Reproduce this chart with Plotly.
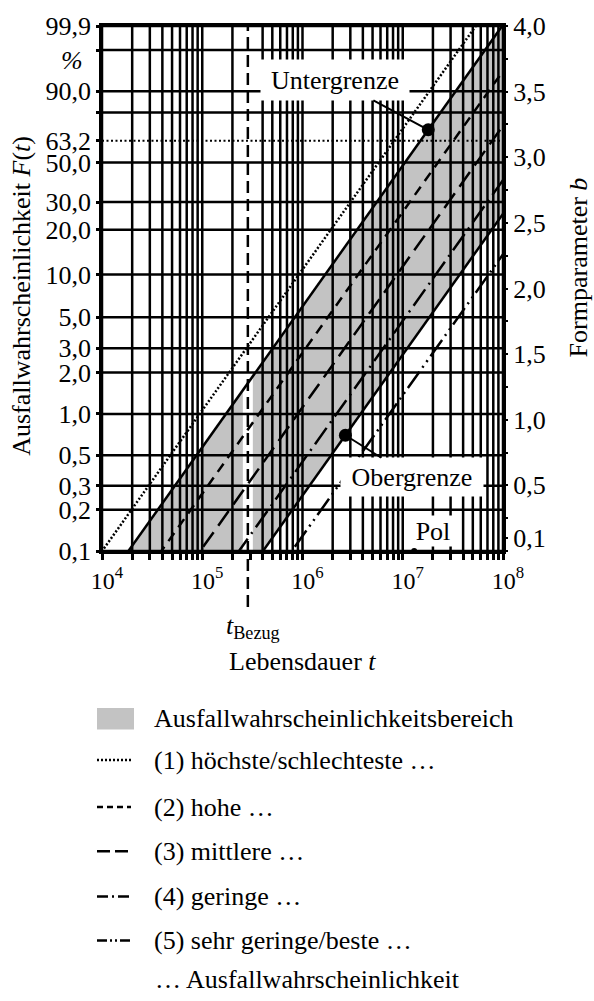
import numpy as np
import plotly.graph_objects as go

# ---------------------------------------------------------------------------
# Weibull probability paper: failure probability F(t) in percent
# ---------------------------------------------------------------------------
F_GRID = [0.1, 0.2, 0.3, 0.5, 1.0, 2.0, 3.0, 5.0, 10.0, 20.0, 30.0, 50.0,
          80.0, 90.0, 99.0, 99.9]
F_TICKS = [0.1, 0.2, 0.3, 0.5, 1.0, 2.0, 3.0, 5.0, 10.0, 20.0, 30.0, 50.0,
           63.2, 90.0, 99.9]
F_TICKTEXT = ["0,1", "0,2", "0,3", "0,5", "1,0", "2,0", "3,0", "5,0", "10,0",
              "20,0", "30,0", "50,0", "63,2", "90,0", "99,9"]
F_MINOR = [80.0, 99.0]
F_CHAR = 63.2  # characteristic life level

# Lifetime axis (log)
T_DECADES = [1e4, 1e5, 1e6, 1e7, 1e8]
T_DECADE_TEXT = ["10<sup>4</sup>", "10<sup>5</sup>", "10<sup>6</sup>",
                 "10<sup>7</sup>", "10<sup>8</sup>"]

# Shape parameter scale on the right
B_QUARTERS = [0.0, 0.25, 0.5, 0.75, 1.0, 1.25, 1.5, 1.75, 2.0, 2.25, 2.5,
              2.75, 3.0, 3.25, 3.5, 3.75, 4.0]
B_LABELED = [0.1, 0.5, 1.0, 1.5, 2.0, 2.5, 3.0, 3.5, 4.0]
B_LABEL_TEXT = ["0,1", "0,5", "1,0", "1,5", "2,0", "2,5", "3,0", "3,5", "4,0"]

# Weibull lines: common shape parameter, characteristic lives T (63.2 %)
SHAPE_B = 1.03
T_UNTER = 1.5e7          # Untergrenze (left boundary of the band)
T_OBER = 3.3e8           # Obergrenze (right boundary of the band)
CURVE_T = [8.2e6, 3.2e7, 7.8e7, 1.9e8, 6.4e8]   # curves (1) ... (5)
CURVE_DASH = ["2px,2px", "10px,7px", "18px,8px",
              "20px,6px,2px,6px", "20px,5px,2px,5px,2px,5px"]

F_UNTER_DOT = 70.0       # marked point on Untergrenze
F_OBER_DOT = 0.7         # marked point on Obergrenze
T_POL = 1.3e7            # pole for reading b
F_POL = 0.1
T_BEZUG = 2.85e5         # reference lifetime

LEGEND_TEXT = ["Ausfallwahrscheinlichkeitsbereich",
               "(1) höchste/schlechteste …",
               "(2) hohe …",
               "(3) mittlere …",
               "(4) geringe …",
               "(5) sehr geringe/beste …"]
LEGEND_FOOT = "… Ausfallwahrscheinlichkeit"
LEGEND_DASH = [None, "2px,2px", "6px,4px", "13px,5px",
               "11px,4px,2px,4px", "10px,3px,2px,3px,2px,3px"]

BAND_GRAY = "#c3c3c3"
FONT = "Liberation Serif"
LW = 2.5   # grid / line width

# ---------------------------------------------------------------------------
def wb(F_percent):
    """Weibull ordinate ln(-ln(1-F))."""
    F = np.asarray(F_percent, dtype=float) / 100.0
    return np.log(-np.log(1.0 - F))


def t_on_line(T, w):
    return T * np.exp(np.asarray(w) / SHAPE_B)


W_MIN = float(wb(0.1))
W_MAX = float(wb(99.9))
W_EXT = [W_MIN - 1.0, W_MAX + 1.0]   # lines run past the frame and get clipped

# page geometry of the plotting frame (pixels)
L, R, TOP, BOT = 102, 503, 16, 551


def px_x(x):
    return (x - L) / (R - L)


def px_y(y):
    return (BOT - y) / (BOT - TOP)


fig = go.Figure()

# shaded band between Untergrenze and Obergrenze
band_w = [W_EXT[0], W_EXT[1], W_EXT[1], W_EXT[0]]
band_t = [t_on_line(T_UNTER, W_EXT[0]), t_on_line(T_UNTER, W_EXT[1]),
          t_on_line(T_OBER, W_EXT[1]), t_on_line(T_OBER, W_EXT[0])]
fig.add_trace(go.Scatter(x=band_t, y=band_w, mode="lines", fill="toself",
                         fillcolor=BAND_GRAY, line=dict(width=0),
                         hoverinfo="skip"))

# vertical grid (1..9 per decade)
vt = []
for d in T_DECADES[:-1]:
    for k in range(1, 10):
        vt.append(k * d)
vt.append(T_DECADES[-1])
gx, gy = [], []
for t in vt:
    gx += [t, t, None]
    gy += [W_MIN, W_MAX, None]
fig.add_trace(go.Scatter(x=gx, y=gy, mode="lines",
                         line=dict(color="black", width=LW), hoverinfo="skip"))

# white corridor around the reference lifetime
fig.add_trace(go.Scatter(x=[T_BEZUG, T_BEZUG], y=[W_MIN, W_MAX], mode="lines",
                         line=dict(color="white", width=10), hoverinfo="skip"))

# horizontal grid
hx, hy = [], []
for f in F_GRID:
    w = float(wb(f))
    hx += [T_DECADES[0], T_DECADES[-1], None]
    hy += [w, w, None]
fig.add_trace(go.Scatter(x=hx, y=hy, mode="lines",
                         line=dict(color="black", width=LW), hoverinfo="skip"))

# 63.2 % level
w_char = float(wb(F_CHAR))
fig.add_trace(go.Scatter(x=[T_DECADES[0], T_DECADES[-1]], y=[w_char, w_char],
                         mode="lines",
                         line=dict(color="black", width=2, dash="2px,2.5px"),
                         hoverinfo="skip"))

# band boundaries
for T in (T_UNTER, T_OBER):
    fig.add_trace(go.Scatter(x=t_on_line(T, W_EXT), y=W_EXT, mode="lines",
                             line=dict(color="black", width=LW),
                             hoverinfo="skip"))

# curves (1) ... (5)
for T, dash in zip(CURVE_T, CURVE_DASH):
    fig.add_trace(go.Scatter(x=t_on_line(T, W_EXT), y=W_EXT, mode="lines",
                             line=dict(color="black", width=LW, dash=dash),
                             hoverinfo="skip"))

# marked points
w_u = float(wb(F_UNTER_DOT))
w_o = float(wb(F_OBER_DOT))
t_u = float(t_on_line(T_UNTER, w_u))
t_o = float(t_on_line(T_OBER, w_o))
fig.add_trace(go.Scatter(x=[t_u, t_o], y=[w_u, w_o], mode="markers",
                         marker=dict(color="black", size=13),
                         hoverinfo="skip"))
w_p = float(wb(F_POL))
fig.add_trace(go.Scatter(x=[T_POL], y=[w_p], mode="markers", cliponaxis=False,
                         marker=dict(color="black", size=6), hoverinfo="skip"))

# keeps the right-hand b axis alive
fig.add_trace(go.Scatter(x=[T_DECADES[0]], y=[0], yaxis="y2", mode="markers",
                         marker=dict(opacity=0), hoverinfo="skip"))

# reference lifetime marker (runs below the frame)
shapes = [dict(type="line", xref="x", yref="paper", x0=T_BEZUG, x1=T_BEZUG,
               y0=px_y(608), y1=1.0, layer="above",
               line=dict(color="black", width=2.5, dash="12px,6px"))]

# legend block
row_y = [722, 764, 812, 857, 903, 948]
shapes.append(dict(type="rect", xref="paper", yref="paper",
                   x0=px_x(97), x1=px_x(134), y0=px_y(733), y1=px_y(711),
                   fillcolor=BAND_GRAY, line=dict(width=0)))
for yy, dash in zip(row_y[1:], LEGEND_DASH[1:]):
    shapes.append(dict(type="line", xref="paper", yref="paper",
                       x0=px_x(97), x1=px_x(131), y0=px_y(yy), y1=px_y(yy),
                       line=dict(color="black", width=2.5, dash=dash)))

annotations = []
for yy, txt in zip(row_y, LEGEND_TEXT):
    annotations.append(dict(text=txt, xref="paper", yref="paper",
                            x=px_x(152), y=px_y(yy), xanchor="left",
                            yanchor="middle", showarrow=False))
annotations.append(dict(text=LEGEND_FOOT, xref="paper", yref="paper",
                        x=px_x(153), y=px_y(988), xanchor="left",
                        yanchor="middle", showarrow=False))

# axis titles and unit
annotations.append(dict(text="Lebensdauer <i>t</i>", xref="paper", yref="paper",
                        x=0.5, y=px_y(664), xanchor="center", yanchor="middle",
                        showarrow=False))
annotations.append(dict(text="<i>t</i><sub>Bezug</sub>", xref="x", yref="paper",
                        x=float(np.log10(T_BEZUG)), y=px_y(628), xshift=5,
                        xanchor="center", yanchor="middle", showarrow=False))
annotations.append(dict(text="Ausfallwahrscheinlichkeit <i>F</i>(<i>t</i>)",
                        xref="paper", yref="paper", x=px_x(22), y=px_y(291),
                        textangle=-90, xanchor="center", yanchor="middle",
                        showarrow=False))
annotations.append(dict(text="Formparameter <i>b</i>", xref="paper",
                        yref="paper", x=px_x(578), y=px_y(262), textangle=-90,
                        xanchor="center", yanchor="middle", showarrow=False))
annotations.append(dict(text="<i>%</i>", xref="paper", yref="paper",
                        x=px_x(72), y=px_y(51), xanchor="center",
                        yanchor="middle", showarrow=False))

# callouts
annotations.append(dict(text="Untergrenze", xref="x", yref="y",
                        x=float(np.log10(t_u)), y=w_u, ax=-93, ay=-50,
                        showarrow=True, arrowhead=0, arrowwidth=2,
                        arrowcolor="black", bgcolor="white", width=146,
                        height=38))
annotations.append(dict(text="Obergrenze", xref="x", yref="y",
                        x=float(np.log10(t_o)), y=w_o, ax=67, ay=42,
                        showarrow=True, arrowhead=0, arrowwidth=2,
                        arrowcolor="black", bgcolor="white", width=140,
                        height=36))
annotations.append(dict(text="Pol", xref="x", yref="y",
                        x=float(np.log10(T_POL)), y=w_p, xanchor="left",
                        yanchor="bottom", xshift=-3, yshift=4,
                        showarrow=False, bgcolor="white", width=40, height=28))

# tick definitions
x_minor = [t for t in vt if t not in T_DECADES]
y_tickvals = [float(wb(f)) for f in F_TICKS]
y_minor = [float(wb(f)) for f in F_MINOR]
b_minor = [v for v in B_QUARTERS if v not in B_LABELED]

fig.update_layout(
    width=594, height=1001,
    margin=dict(l=L, r=594 - R, t=TOP, b=1001 - BOT, pad=0),
    paper_bgcolor="white", plot_bgcolor="white",
    showlegend=False,
    font=dict(family=FONT, size=26, color="black"),
    xaxis=dict(type="log", range=[4, 8], tickmode="array",
               tickvals=T_DECADES, ticktext=T_DECADE_TEXT,
               ticks="outside", ticklen=6, tickwidth=LW, tickcolor="black",
               minor=dict(tickmode="array", tickvals=x_minor,
                          ticks="outside", ticklen=6, tickwidth=LW,
                          tickcolor="black", showgrid=False),
               showgrid=False, zeroline=False, showline=True, linewidth=LW,
               linecolor="black", mirror=True, tickfont=dict(size=24),
               ticklabelshift=5),
    yaxis=dict(range=[W_MIN, W_MAX], tickmode="array",
               tickvals=y_tickvals, ticktext=F_TICKTEXT,
               ticks="outside", ticklen=3, tickwidth=LW, tickcolor="black",
               minor=dict(tickmode="array", tickvals=y_minor,
                          ticks="outside", ticklen=3, tickwidth=LW,
                          tickcolor="black", showgrid=False),
               showgrid=False, zeroline=False, showline=True, linewidth=LW,
               linecolor="black", mirror=True),
    yaxis2=dict(overlaying="y", side="right", range=[0, 4],
                tickmode="array", tickvals=B_LABELED, ticktext=B_LABEL_TEXT,
                ticks="outside", ticklen=4, tickwidth=2, tickcolor="black",
                minor=dict(tickmode="array", tickvals=b_minor,
                           ticks="outside", ticklen=4, tickwidth=2,
                           tickcolor="black", showgrid=False),
                showgrid=False, zeroline=False, showline=False),
    shapes=shapes,
    annotations=annotations,
)

fig.write_html("out.html")
